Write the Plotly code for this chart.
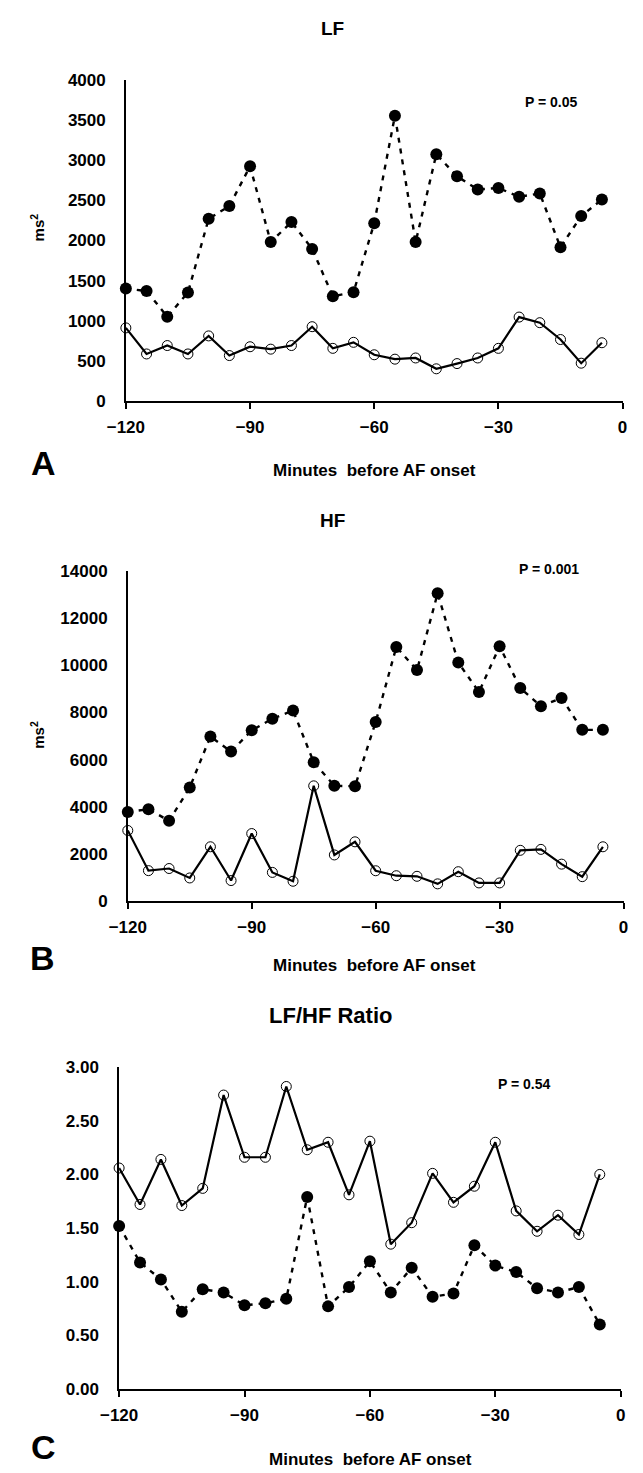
import plotly.graph_objects as go

W, H = 643, 1473

minutes = [-120, -115, -110, -105, -100, -95, -90, -85, -80, -75, -70, -65,
           -60, -55, -50, -45, -40, -35, -30, -25, -20, -15, -10, -5]

# Panel A: LF (ms^2)
lf_filled = [1400, 1370, 1050, 1350, 2270, 2430, 2925, 1980, 2230, 1895, 1305, 1355,
             2215, 3555, 1980, 3075, 2800, 2635, 2655, 2545, 2585, 1915, 2305, 2510]
lf_open = [910, 585, 690, 585, 810, 565, 675, 645, 690, 925, 655, 730,
           575, 520, 535, 400, 465, 535, 655, 1045, 975, 765, 470, 725]

# Panel B: HF (ms^2)
hf_filled = [3780, 3900, 3410, 4820, 6980, 6340, 7240, 7730, 8080, 5890, 4890, 4875,
             7590, 10770, 9790, 13040, 10110, 8860, 10800, 9030, 8260, 8610, 7260, 7260]
hf_open = [3000, 1300, 1390, 990, 2310, 880, 2870, 1225, 850, 4890, 1965, 2520,
           1295, 1085, 1060, 740, 1255, 780, 780, 2160, 2200, 1575, 1045, 2310]

# Panel C: LF/HF ratio
ratio_open = [2.06, 1.72, 2.14, 1.71, 1.87, 2.74, 2.16, 2.16, 2.82, 2.23, 2.30, 1.81,
              2.31, 1.35, 1.55, 2.01, 1.74, 1.89, 2.30, 1.66, 1.47, 1.62, 1.44, 2.00]
ratio_filled = [1.52, 1.18, 1.02, 0.72, 0.93, 0.90, 0.78, 0.80, 0.84, 1.79, 0.77, 0.95,
                1.19, 0.90, 1.13, 0.86, 0.89, 1.34, 1.15, 1.09, 0.94, 0.90, 0.95, 0.60]

titles = ["LF", "HF", "LF/HF Ratio"]
p_texts = ["P = 0.05", "P = 0.001", "P = 0.54"]
panel_letters = ["A", "B", "C"]
x_ticks = [-120, -90, -60, -30, 0]
x_title = "Minutes  before AF onset"

FONT = "Liberation Sans, Arial, sans-serif"


def px(x):
    return x / W


def py(y):
    return 1 - y / H


# pixel boxes (x_left, x_right, y_top, y_bottom) of each plot area
boxes = [(111, 627, 72, 397), (113, 628, 569, 904), (104, 625, 1072, 1398)]
yranges = [[0, 4000], [0, 14000], [0, 3]]
ydticks = [500, 2000, 0.5]
yformats = ["d", "d", ".2f"]

fig = go.Figure()

panels = [(lf_filled, lf_open), (hf_filled, hf_open), (ratio_filled, ratio_open)]

for i, (filled, opened) in enumerate(panels):
    n = "" if i == 0 else str(i + 1)
    xa, ya = "x" + n, "y" + n
    fig.add_trace(go.Scatter(
        x=minutes, y=filled, xaxis=xa, yaxis=ya, mode="lines+markers",
        line=dict(color="black", width=2.4, dash="5px,6px"),
        marker=dict(color="black", size=12, symbol="circle"),
        cliponaxis=False, showlegend=False))
    fig.add_trace(go.Scatter(
        x=minutes, y=opened, xaxis=xa, yaxis=ya, mode="lines+markers",
        line=dict(color="black", width=2.2),
        marker=dict(color="black", size=10, symbol="circle-open",
                    line=dict(width=1, color="black")),
        cliponaxis=False, showlegend=False))

layout = dict(
    width=W, height=H, margin=dict(l=0, r=0, t=0, b=0),
    paper_bgcolor="white", plot_bgcolor="white", showlegend=False,
    font=dict(family=FONT, color="black"),
)

for i in range(3):
    n = "" if i == 0 else str(i + 1)
    xl, xr, yt, yb = boxes[i]
    layout["xaxis" + n] = dict(
        domain=[px(xl), px(xr)], anchor="y" + n, range=[-120, 0],
        tickvals=x_ticks, ticks="outside", ticklen=6, tickwidth=1.5,
        tickcolor="black", showline=True, linecolor="black", linewidth=1.5,
        showgrid=False, zeroline=False, ticklabelstandoff=4,
        tickfont=dict(family=FONT, size=17, weight="bold", color="black"),
    )
    layout["yaxis" + n] = dict(
        domain=[py(yb), py(yt)], anchor="x" + n, range=yranges[i],
        dtick=ydticks[i], tick0=0, tickformat=yformats[i],
        ticks="outside", ticklen=15, tickcolor="rgba(0,0,0,0)",
        showline=True, linecolor="black", linewidth=1.5,
        showgrid=False, zeroline=False,
        tickfont=dict(family=FONT, size=17, weight="bold", color="black"),
    )

title_pos = [(326, 20), (326, 518), (324, 1020)]
title_sizes = [19, 19, 22]
p_pos = [(553, 94), (551, 567), (525, 1089)]
letter_pos = [(25, 460), (24, 961), (25, 1457)]
xtitle_pos = [(369, 468), (369, 969), (365, 1469)]
ms_pos = [(19, 221), (19, 735)]

annotations = []
for i in range(3):
    annotations.append(dict(text=titles[i], x=px(title_pos[i][0]), y=py(title_pos[i][1]),
                            xref="paper", yref="paper", showarrow=False,
                            xanchor="center", yanchor="middle",
                            font=dict(family=FONT, size=title_sizes[i], weight="bold")))
    annotations.append(dict(text=p_texts[i], x=px(p_pos[i][0]), y=py(p_pos[i][1]),
                            xref="paper", yref="paper", showarrow=False,
                            xanchor="center", yanchor="middle",
                            font=dict(family=FONT, size=14, weight="bold")))
    annotations.append(dict(text=panel_letters[i], x=px(letter_pos[i][0]), y=py(letter_pos[i][1]),
                            xref="paper", yref="paper", showarrow=False,
                            xanchor="center", yanchor="middle",
                            font=dict(family=FONT, size=34, weight="bold")))
    annotations.append(dict(text=x_title, x=px(xtitle_pos[i][0]), y=py(xtitle_pos[i][1]),
                            xref="paper", yref="paper", showarrow=False,
                            xanchor="center", yanchor="middle",
                            font=dict(family=FONT, size=17, weight="bold")))
for (mx, my) in ms_pos:
    annotations.append(dict(text="ms<sup>2</sup>", x=px(mx), y=py(my),
                            xref="paper", yref="paper", showarrow=False, textangle=-90,
                            xanchor="center", yanchor="middle",
                            font=dict(family=FONT, size=15, weight="bold")))

layout["annotations"] = annotations
fig.update_layout(**layout)
fig.write_html("out.html", config={"displayModeBar": False},
               post_script="document.body.style.margin='0';")
